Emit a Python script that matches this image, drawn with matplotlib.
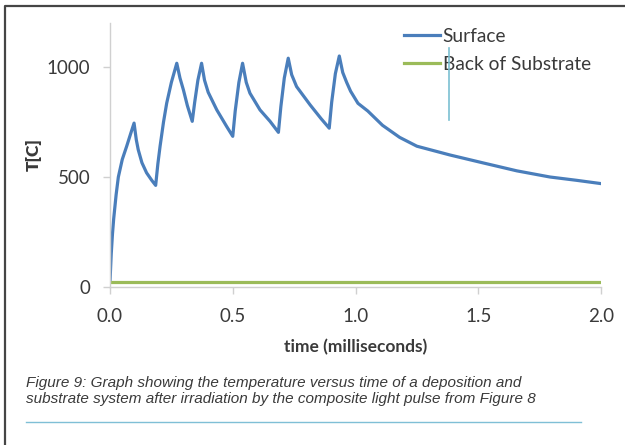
import matplotlib
matplotlib.use("Agg")
import matplotlib.pyplot as plt
from matplotlib.lines import Line2D

# time in milliseconds, temperature in C
time_ms = [0.0, 0.005, 0.01, 0.015, 0.025, 0.034, 0.05, 0.068, 0.085, 0.098,
           0.107, 0.115, 0.13, 0.149, 0.17, 0.186,
           0.195, 0.204, 0.218, 0.231, 0.25, 0.272,
           0.285, 0.299, 0.315, 0.335,
           0.345, 0.358, 0.373,
           0.385, 0.40, 0.435, 0.475, 0.50,
           0.51, 0.525, 0.54,
           0.555, 0.57, 0.611, 0.652, 0.686,
           0.696, 0.71, 0.726,
           0.74, 0.76, 0.815, 0.86, 0.893,
           0.903, 0.918, 0.934,
           0.948, 0.964, 0.98, 1.01, 1.05, 1.11, 1.18, 1.25, 1.385, 1.52, 1.657, 1.792, 1.9, 2.0]
surface = [25, 150, 240, 310, 420, 500, 580, 640, 700, 745,
           670, 624, 565, 519, 485, 462,
           560, 640, 750, 836, 930, 1017,
           950, 896, 825, 753,
           840, 940, 1017,
           940, 885, 805, 730, 685,
           800, 930, 1017,
           930, 881, 805, 753, 703,
           820, 950, 1040,
           965, 911, 828, 765, 722,
           840, 970, 1050,
           975, 930, 890, 835, 800, 735, 680, 640, 600, 564, 528, 500, 485, 470]
back_time = [0.0, 2.0]
back_of_substrate = [25, 25]

x_ticks = [0.0, 0.5, 1.0, 1.5, 2.0]
y_ticks = [0, 500, 1000]

W, H = 625, 445
fig = plt.figure(figsize=(W / 100, H / 100), dpi=100)
ax = fig.add_axes([110 / W, 1 - 287 / H, (601 - 110) / W, (287 - 23) / H])

ax.plot(time_ms, surface, color="#4a7ebb", lw=2.3, label="Surface")
ax.plot(back_time, back_of_substrate, color="#9bbb59", lw=2.3, label="Back of Substrate")

ax.set_xlim(0, 2.0)
ax.set_ylim(0, 1200)
ax.set_xticks(x_ticks)
ax.set_xticklabels(["%.1f" % v for v in x_ticks])
ax.set_yticks(y_ticks)

txt = "#3a3a3a"
for s in ["top", "right"]:
    ax.spines[s].set_visible(False)
for s in ["left", "bottom"]:
    ax.spines[s].set_color("#d0d0d0")
    ax.spines[s].set_linewidth(1.0)
ax.tick_params(colors="#d0d0d0", length=5, width=1.0, labelcolor=txt, labelsize=13.5)
for lab in ax.get_xticklabels() + ax.get_yticklabels():
    lab.set_family("Lato")
ax.tick_params(axis="x", pad=10)
ax.tick_params(axis="y", pad=9)

ax.set_xlabel("time (milliseconds)", family="Lato", fontweight="bold", fontsize=12.5,
              color=txt, labelpad=10)
ax.set_ylabel("T[C]", family="Lato", fontweight="heavy", fontsize=12.5, color=txt, labelpad=4)

leg = ax.legend(loc="upper left", bbox_to_anchor=(404 / W, 1 - 28 / H),
                bbox_transform=fig.transFigure, frameon=False,
                prop={"family": "Lato", "size": 13.8}, labelcolor=txt,
                handlelength=1.9, handletextpad=0.12, labelspacing=0.55,
                borderpad=0, borderaxespad=0)

# stray vertical line over the legend
fig.add_artist(Line2D([449 / W, 449 / W], [1 - 48 / H, 1 - 120 / H],
                      color="#7cc0d2", lw=1.2))

# page border
fig.add_artist(Line2D([5 / W, 5 / W, 1.02], [-0.02, 1 - 6 / H, 1 - 6 / H],
                      color="#454545", lw=1.6))

fig.text(26 / W, 1 - 391 / H,
         "Figure 9: Graph showing the temperature versus time of a deposition and\n"
         "substrate system after irradiation by the composite light pulse from Figure 8",
         family="Liberation Sans", style="italic", fontsize=11.0, color="#3a3a3a",
         va="center", ha="left", linespacing=1.15)

fig.add_artist(Line2D([26 / W, 581 / W], [1 - 422 / H, 1 - 422 / H],
                      color="#7fbfd6", lw=1.0))

fig.savefig("out.png", dpi=100)
